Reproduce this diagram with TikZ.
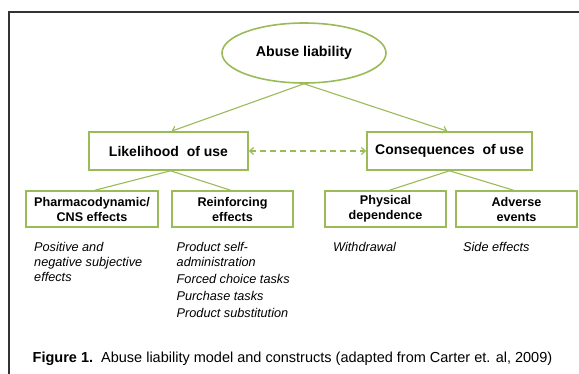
\documentclass[tikz,border=0pt]{standalone}
\usepackage{fontspec}
\setmainfont{Liberation Sans}
\usetikzlibrary{shapes.geometric,arrows.meta}
\definecolor{ogreen}{HTML}{9BBB59}
\definecolor{framec}{HTML}{333333}
\tikzset{
  boxbig/.style={draw=ogreen,line width=1.6pt,rectangle,minimum height=38pt,inner sep=0pt,font=\fontsize{14}{16}\selectfont\bfseries},
  boxsmall/.style={draw=ogreen,line width=1.6pt,rectangle,minimum height=36pt,inner sep=0pt,align=center,font=\fontsize{12.6}{15}\selectfont\bfseries},
  link/.style={draw=ogreen,line width=1.1pt},
  arr/.style={link,-{Straight Barb[length=4pt,width=7pt]}},
  dasharr/.style={link,line width=1.2pt,dash pattern=on 6pt off 4pt,{Straight Barb[length=4pt,width=7pt]}-{Straight Barb[length=4pt,width=7pt]}},
  itxt/.style={anchor=base west,inner sep=0pt,font=\fontsize{12.7}{15}\selectfont\itshape},
}
\begin{document}
\begin{tikzpicture}[x=1pt,y=-1pt]
\useasboundingbox (0,0) rectangle (579,373);
\clip (0,0) rectangle (579,373);
\fill[white] (0,0) rectangle (579,373);
% frame
\draw[framec,line width=1.4pt] (9,380) -- (9,12) -- (590,12);
% nodes
\node[draw=ogreen,line width=1.6pt,ellipse,minimum width=164pt,minimum height=60pt,inner sep=0pt,font=\fontsize{14.2}{16}\selectfont\bfseries] (ell) at (304,53) {Abuse liability};
\node[boxbig,minimum width=159pt] (like) at (168.5,151) {Likelihood\ \ of use};
\node[boxbig,minimum width=165pt] (cons) at (449.5,151) {Consequences\ \ of use};
\node[boxsmall,minimum width=132pt] (pharma) at (92,209) {Pharmacodynamic/\\CNS effects};
\node[boxsmall,minimum width=121pt] (reinf) at (232.5,209) {Reinforcing\\effects};
\node[boxsmall,minimum width=121pt] (phys) at (385.5,209) {Physical\\dependence};
\node[boxsmall,minimum width=121pt] (adv) at (516.5,209) {Adverse\\events};
% connectors
\draw[arr] (ell.south) -- ([xshift=3pt]like.north);
\draw[arr] (ell.south) -- ([xshift=-2pt]cons.north);
\draw[dasharr] (like.east) -- (cons.west);
\draw[link] ([xshift=2pt]like.south) -- ([xshift=3pt]pharma.north);
\draw[link] ([xshift=2pt]like.south) -- ([xshift=-2pt]reinf.north);
\draw[link] (cons.south) -- ([xshift=4pt]phys.north);
\draw[link] (cons.south) -- ([xshift=-3pt]adv.north);
% italic texts
\node[itxt] (p1) at (34,251) {Positive and};
\node[itxt] (p2) at (34,266) {negative subjective};
\node[itxt] (p3) at (34,281) {effects};
\node[itxt] (r1) at (176.5,251) {Product self-};
\node[itxt] (r2) at (176.5,266) {administration};
\node[itxt] (r3) at (176.5,283) {Forced choice tasks};
\node[itxt] (r4) at (176.5,300) {Purchase tasks};
\node[itxt] (r5) at (176.5,317) {Product substitution};
\node[itxt] (w1) at (333,251) {Withdrawal};
\node[itxt] (s1) at (463,251) {Side effects};
% caption
\node[anchor=base west,inner sep=0pt,font=\fontsize{14.5}{16}\selectfont] (cap) at (32.5,362) {\textbf{Figure 1.}\ \ Abuse liability model and constructs (adapted from Carter et. al, 2009)};
\end{tikzpicture}
\end{document}
